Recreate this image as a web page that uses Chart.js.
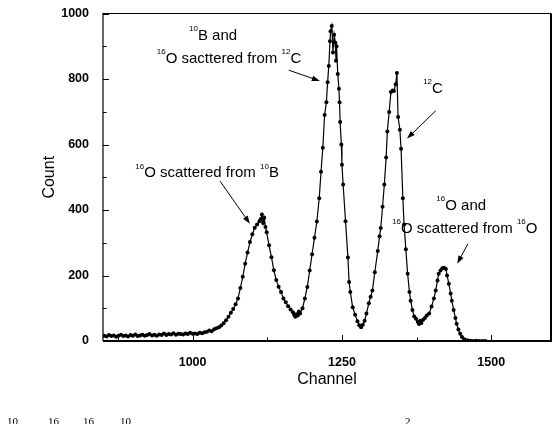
<!DOCTYPE html>
<html>
<head>
<meta charset="utf-8">
<script src="https://cdn.jsdelivr.net/npm/chart.js@4.4.0/dist/chart.umd.min.js"></script>
<style>
  html, body { margin: 0; padding: 0; background: #fff; }
  canvas { display: block; }
</style>
</head>
<body>
<canvas id="myChart" width="558" height="424"></canvas>
<script>
// spectrum: channel / counts
var channel = [
  852, 856, 860, 864, 868, 872, 876, 880, 884, 888,
  892, 896, 900, 904, 908, 912, 916, 920, 924, 928,
  932, 936, 940, 944, 948, 952, 956, 960, 964, 968,
  972, 976, 980, 984, 988, 992, 996, 1000, 1004, 1008,
  1012, 1016, 1020, 1024, 1028, 1032, 1036, 1040, 1044, 1048,
  1052, 1056, 1060, 1064, 1068, 1072, 1076, 1080, 1084, 1088,
  1092, 1096, 1100, 1104, 1108, 1112, 1114, 1116, 1118, 1120,
  1122, 1124, 1128, 1132, 1136, 1140, 1144, 1148, 1152, 1156,
  1160, 1164, 1168, 1170, 1172, 1174, 1176, 1178, 1180, 1184,
  1188, 1192, 1196, 1200, 1204, 1208, 1212, 1215, 1218, 1221,
  1224, 1226, 1228, 1230, 1231, 1233, 1235, 1237, 1239, 1240,
  1241, 1243, 1245, 1246, 1247, 1249, 1250, 1252, 1256, 1260,
  1262, 1264, 1268, 1272, 1276, 1279, 1282, 1285, 1288, 1291,
  1295, 1298, 1301, 1305, 1310, 1313, 1315, 1318, 1321, 1324,
  1326, 1329, 1332, 1335, 1337, 1340, 1342, 1344, 1347, 1349,
  1352, 1354, 1357, 1360, 1363, 1365, 1368, 1371, 1374, 1377,
  1379, 1381, 1383, 1386, 1389, 1392, 1396, 1400, 1404, 1407,
  1410, 1412, 1415, 1418, 1421, 1424, 1426, 1429, 1432, 1434,
  1437, 1440, 1442, 1445, 1448, 1451, 1455, 1460, 1465, 1470,
  1475, 1480, 1485, 1490
];
var counts = [
  16, 14, 18, 15, 17, 13, 16, 19, 15, 17,
  14, 18, 16, 20, 15, 17, 19, 16, 18, 21,
  17, 19, 16, 20, 18, 23, 18, 21, 20, 24,
  19, 22, 21, 20, 23, 21, 25, 22, 23, 21,
  25, 24, 27, 28, 32, 30, 36, 39, 42, 47,
  54, 63, 74, 86, 98, 112, 130, 162, 196, 236,
  270, 302, 326, 346, 356, 366, 372, 386, 360, 376,
  348, 332, 292, 256, 216, 186, 166, 150, 130, 118,
  106, 96, 88, 80, 74, 82, 78, 90, 84, 100,
  130, 165, 215, 265, 315, 365, 436, 517, 590, 690,
  729, 790, 840, 915, 946, 962, 881, 935, 911, 856,
  900, 815, 770, 729, 669, 600, 538, 478, 366, 255,
  180, 150, 103, 80, 60, 48, 42, 50, 62, 84,
  115, 135, 154, 210, 275, 320, 345, 410, 478, 560,
  640, 699, 760, 765, 763, 784, 818, 684, 645, 587,
  436, 356, 280, 205, 150, 123, 95, 75, 68, 58,
  52, 62, 55, 65, 70, 78, 84, 105, 130, 154,
  185, 205, 215, 222, 224, 220, 200, 175, 145, 123,
  95, 70, 53, 35, 22, 12, 5, 2, 1, 0,
  1, 0, 0, 0
];
var xTicks = [1000, 1250, 1500];
var yTicks = [0, 200, 400, 600, 800, 1000];

// labels with ^NN as superscript, placed in data units (channel, count)
var notes = [
  { text: '^10B and', x: 994, y: 933 },
  { text: '^16O sacttered from ^12C', x: 940, y: 861 },
  { text: '^12C', x: 1386, y: 770 },
  { text: '^16O scattered from ^10B', x: 904, y: 512 },
  { text: '^16O and', x: 1408, y: 412 },
  { text: '^16O scattered from ^16O', x: 1334, y: 342 }
];
var arrows = [
  { from: [1161, 827], to: [1213, 794] },
  { from: [1407, 703], to: [1359, 618] },
  { from: [1046, 488], to: [1096, 358] },
  { from: [1461, 297], to: [1443, 236] }
];
// cut-off caption line at the very bottom of the picture
var captionBits = [
  { text: '10', x: 7 }, { text: '16', x: 48 }, { text: '16', x: 83 },
  { text: '10', x: 120 }, { text: '2', x: 405 }
];

var SANS = '"Liberation Sans", Arial, Helvetica, sans-serif';

var points = [];
for (var i = 0; i < channel.length; i++) {
  points.push({ x: channel[i], y: counts[i] });
}

function drawRich(ctx, str, x, y) {
  var parts = str.split(/\^(\d+)/);
  var cx = x;
  for (var i = 0; i < parts.length; i++) {
    var p = parts[i];
    if (!p) continue;
    if (i % 2 == 1) {
      ctx.font = '8px ' + SANS;
      ctx.textBaseline = 'alphabetic';
      ctx.fillText(p, cx, y - 4.7);
    } else {
      ctx.font = '15px ' + SANS;
      ctx.textBaseline = 'middle';
      ctx.fillText(p, cx, y);
    }
    cx += ctx.measureText(p).width;
  }
}

function drawArrow(ctx, x1, y1, x2, y2) {
  var a = Math.atan2(y2 - y1, x2 - x1);
  var len = 8, w = 2.8;
  ctx.beginPath();
  ctx.moveTo(x1, y1);
  ctx.lineTo(x2 - Math.cos(a) * len * 0.7, y2 - Math.sin(a) * len * 0.7);
  ctx.stroke();
  ctx.beginPath();
  ctx.moveTo(x2, y2);
  ctx.lineTo(x2 - len * Math.cos(a) + w * Math.sin(a), y2 - len * Math.sin(a) - w * Math.cos(a));
  ctx.lineTo(x2 - len * Math.cos(a) - w * Math.sin(a), y2 - len * Math.sin(a) + w * Math.cos(a));
  ctx.closePath();
  ctx.fill();
}

// frame + inward ticks like the original plot
var framePlugin = {
  id: 'frame',
  afterDraw: function (chart) {
    var ctx = chart.ctx, a = chart.chartArea;
    var xs = chart.scales.x, ys = chart.scales.y;
    ctx.save();
    ctx.strokeStyle = '#000';
    ctx.lineWidth = 1.2;
    ctx.beginPath();
    ctx.moveTo(a.left, a.bottom); ctx.lineTo(a.left, a.top); ctx.lineTo(a.right, a.top);
    ctx.stroke();
    ctx.lineWidth = 2;
    ctx.beginPath();
    ctx.moveTo(a.left, a.bottom); ctx.lineTo(a.right, a.bottom); ctx.lineTo(a.right, a.top);
    ctx.stroke();

    ctx.lineWidth = 1;
    ctx.beginPath();
    for (var i = 0; i < yTicks.length; i++) {
      var py = Math.round(ys.getPixelForValue(yTicks[i])) + 0.5;
      ctx.moveTo(a.left, py); ctx.lineTo(a.left + 6, py);
      if (i < yTicks.length - 1) {
        var my = Math.round(ys.getPixelForValue((yTicks[i] + yTicks[i + 1]) / 2)) + 0.5;
        ctx.moveTo(a.left, my); ctx.lineTo(a.left + 3.5, my);
      }
    }
    var step = xTicks[1] - xTicks[0];
    for (var j = 0; j < xTicks.length; j++) {
      var px = Math.round(xs.getPixelForValue(xTicks[j])) + 0.5;
      ctx.moveTo(px, a.bottom); ctx.lineTo(px, a.bottom - 6);
      var mx = Math.round(xs.getPixelForValue(xTicks[j] - step / 2)) + 0.5;
      ctx.moveTo(mx, a.bottom); ctx.lineTo(mx, a.bottom - 3.5);
    }
    ctx.stroke();
    ctx.restore();
  }
};

var notesPlugin = {
  id: 'notes',
  afterDraw: function (chart) {
    var ctx = chart.ctx;
    var xs = chart.scales.x, ys = chart.scales.y;
    ctx.save();
    ctx.fillStyle = '#000';
    ctx.strokeStyle = '#000';
    ctx.lineWidth = 1;
    notes.forEach(function (n) {
      drawRich(ctx, n.text, xs.getPixelForValue(n.x), ys.getPixelForValue(n.y));
    });
    arrows.forEach(function (r) {
      drawArrow(ctx,
        xs.getPixelForValue(r.from[0]), ys.getPixelForValue(r.from[1]),
        xs.getPixelForValue(r.to[0]), ys.getPixelForValue(r.to[1]));
    });
    ctx.font = '11px "Liberation Serif", "Times New Roman", serif';
    ctx.textBaseline = 'top';
    captionBits.forEach(function (c) {
      ctx.fillText(c.text, c.x, 417);
    });
    ctx.restore();
  }
};

var ctx = document.getElementById('myChart').getContext('2d');
var myChart = new Chart(ctx, {
  type: 'scatter',
  data: {
    datasets: [{
      data: points,
      showLine: true,
      borderColor: '#000',
      borderWidth: 1.2,
      backgroundColor: '#000',
      pointBackgroundColor: '#000',
      pointBorderWidth: 0,
      pointRadius: 2,
      pointHoverRadius: 2,
      tension: 0
    }]
  },
  options: {
    responsive: false,
    animation: false,
    events: [],
    layout: { padding: { left: 0, top: 11, right: 7, bottom: 0 } },
    plugins: { legend: { display: false }, tooltip: { enabled: false } },
    scales: {
      x: {
        type: 'linear',
        min: 850,
        max: 1600,
        grid: { display: false },
        border: { display: false },
        afterBuildTicks: function (s) { s.ticks = xTicks.map(function (v) { return { value: v }; }); },
        afterFit: function (s) { s.height = 83; },
        ticks: {
          padding: 6,
          color: '#000',
          maxRotation: 0,
          callback: function (v) { return String(v); },
          font: { family: SANS, size: 12.5, weight: 'bold' }
        },
        title: {
          display: true,
          text: 'Channel',
          color: '#000',
          font: { family: SANS, size: 16 },
          padding: { top: 0, bottom: 34.4 }
        }
      },
      y: {
        type: 'linear',
        min: 0,
        max: 1000,
        grid: { display: false },
        border: { display: false },
        afterBuildTicks: function (s) { s.ticks = yTicks.map(function (v) { return { value: v }; }); },
        afterFit: function (s) { s.width = 103; },
        ticks: {
          padding: 6,
          color: '#000',
          callback: function (v) { return String(v); },
          font: { family: SANS, size: 12.5, weight: 'bold' }
        },
        title: {
          display: true,
          text: 'Count',
          color: '#000',
          font: { family: SANS, size: 16 },
          padding: { top: 40, bottom: 0 }
        }
      }
    }
  },
  plugins: [framePlugin, notesPlugin]
});
</script>
</body>
</html>
